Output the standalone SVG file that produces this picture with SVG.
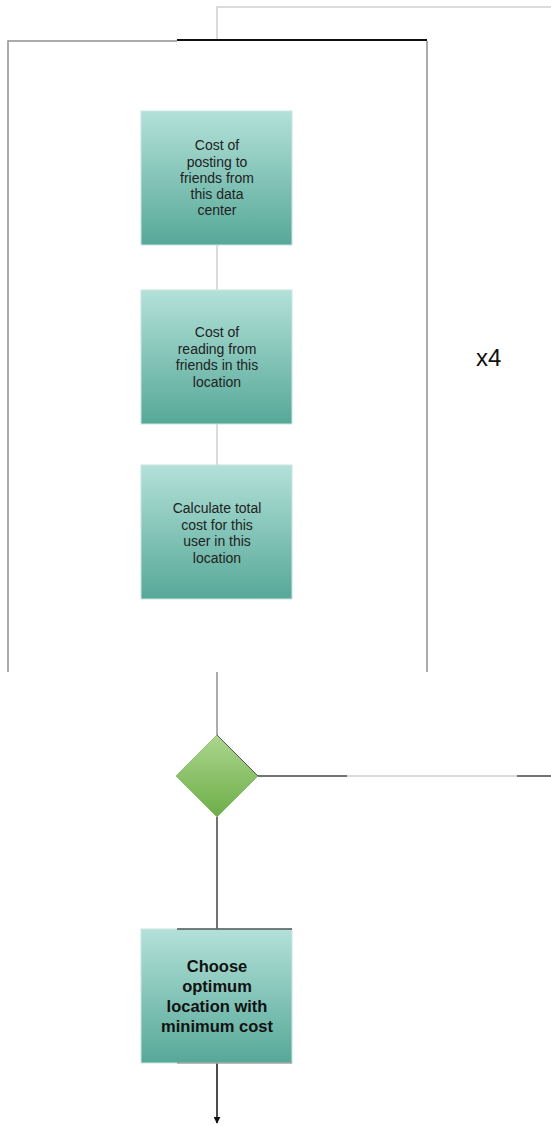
<svg xmlns="http://www.w3.org/2000/svg" width="551" height="1126" viewBox="0 0 551 1126">
<style>
.box{fill:url(#tealGrad);stroke:#c8e6e0;stroke-width:1}
.t{font-family:"Liberation Sans",Arial,sans-serif;font-size:14px;fill:#222;text-anchor:middle}
.tb{font-family:"Liberation Sans",Arial,sans-serif;font-size:16.5px;font-weight:bold;fill:#111;text-anchor:middle}
.lite{stroke:#d0d0d0;stroke-width:1.5;fill:none}
.mid{stroke:#909090;stroke-width:1.5;fill:none}
.dark{stroke:#444;stroke-width:1.5;fill:none}
</style>
<defs>
<linearGradient id="tealGrad" x1="0" y1="0" x2="0" y2="1">
<stop offset="0" stop-color="#b3e1d9"/>
<stop offset="1" stop-color="#56a898"/>
</linearGradient>
<linearGradient id="greenGrad" x1="0" y1="0" x2="0" y2="1">
<stop offset="0" stop-color="#acd68e"/>
<stop offset="1" stop-color="#6cae47"/>
</linearGradient>
<marker id="arr" viewBox="0 0 10 10" refX="9" refY="5" markerWidth="7" markerHeight="7" orient="auto" markerUnits="userSpaceOnUse">
<path d="M0,0 L10,5 L0,10 z" fill="#111"/>
</marker>
</defs>
<g id="connectors">
<polyline class="lite" points="551,7 217,7 217,40"/>
<line x1="177" y1="40" x2="427" y2="40" stroke="#111" stroke-width="2"/>
<polyline class="mid" points="177,41 8,41 8,672"/>
<line class="mid" x1="427" y1="41" x2="427" y2="672"/>
<line class="lite" x1="217" y1="245" x2="217" y2="290"/>
<line class="lite" x1="217" y1="424" x2="217" y2="465"/>
<line class="mid" x1="217" y1="672" x2="217" y2="735"/>
<line class="dark" x1="258" y1="776" x2="347" y2="776"/>
<line class="lite" x1="347" y1="776" x2="517" y2="776"/>
<line class="dark" x1="517" y1="776" x2="551" y2="776"/>
<line class="dark" x1="217" y1="817" x2="217" y2="929"/>
<line x1="217" y1="1063" x2="217" y2="1123" stroke="#111" stroke-width="1.5" marker-end="url(#arr)"/>
</g>
<g id="node1">
<rect class="box" x="141" y="111" width="151" height="134"/>
<text class="t" x="217" y="150">Cost of</text>
<text class="t" x="217" y="166.5">posting to</text>
<text class="t" x="217" y="183">friends from</text>
<text class="t" x="217" y="199">this data</text>
<text class="t" x="217" y="215">center</text>
</g>
<g id="node2">
<rect class="box" x="141" y="290" width="151" height="134"/>
<text class="t" x="217" y="337">Cost of</text>
<text class="t" x="217" y="353.5">reading from</text>
<text class="t" x="217" y="370">friends in this</text>
<text class="t" x="217" y="387">location</text>
</g>
<g id="node3">
<rect class="box" x="141" y="465" width="151" height="134"/>
<text class="t" x="217" y="513">Calculate total</text>
<text class="t" x="217" y="529.5">cost for this</text>
<text class="t" x="217" y="546">user in this</text>
<text class="t" x="217" y="562.5">location</text>
</g>
<g id="decision">
<polygon points="217,735 258,776 217,817 176,776" fill="url(#greenGrad)" stroke="#8fbf70" stroke-width="1"/>
<polyline points="217,735 258,776" stroke="#555" stroke-width="1" fill="none"/>
</g>
<g id="node4">
<rect class="box" x="141" y="929" width="151" height="134"/>
<line x1="177" y1="929" x2="292" y2="929" stroke="#555" stroke-width="1.5"/>
<line x1="177" y1="1063" x2="292" y2="1063" stroke="#888" stroke-width="1"/>
<text class="tb" x="217" y="972">Choose</text>
<text class="tb" x="217" y="992">optimum</text>
<text class="tb" x="217" y="1012">location with</text>
<text class="tb" x="217" y="1032">minimum cost</text>
</g>
<g id="label">
<text x="476" y="366" font-family="Liberation Sans,Arial,sans-serif" font-size="24" fill="#111">x4</text>
</g>
</svg>
